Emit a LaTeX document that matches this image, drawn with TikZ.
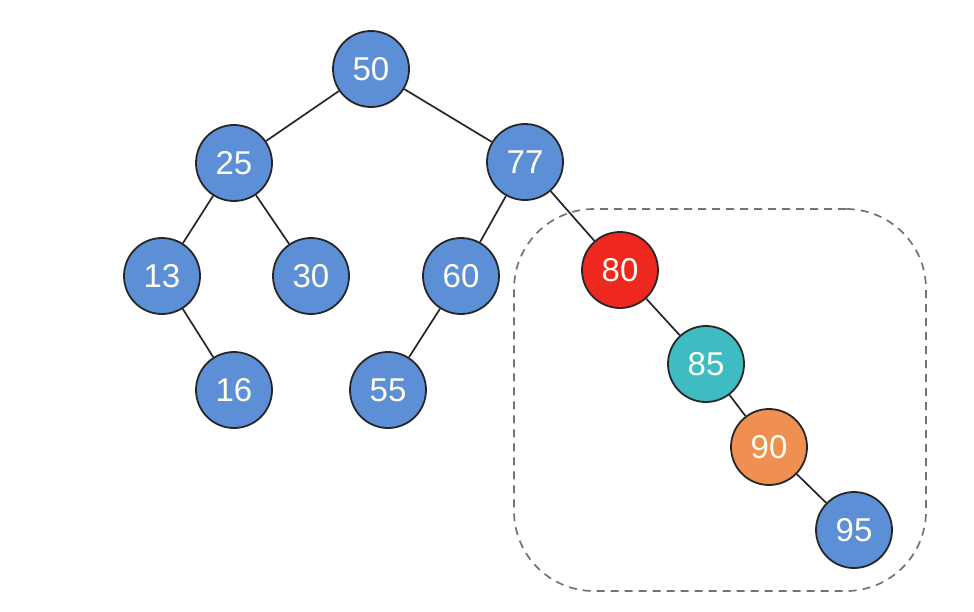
\documentclass[tikz,border=0pt]{standalone}
\usepackage{fontspec}
\setmainfont{Liberation Sans}
\usepackage{tikz}
\usetikzlibrary{arrows.meta}

\definecolor{nblue}{RGB}{92,143,214}
\definecolor{nred}{RGB}{238,40,30}
\definecolor{nteal}{RGB}{62,188,194}
\definecolor{norange}{RGB}{240,143,82}

\begin{document}
\begin{tikzpicture}[
  x=1pt, y=-1pt,
  node/.style={circle,draw=black!85,line width=1.8pt,minimum size=76pt,inner sep=0pt,
    text=white!95!yellow,font=\fontsize{33}{39}\selectfont},
  edge/.style={line width=1.7pt,draw=black!85},
  box/.style={dashed,dash pattern=on 8pt off 6pt,line width=1.7pt,draw=black!55,rounded corners=80pt}
]
\useasboundingbox (0,0) rectangle (974,611);

% dashed region round the right branch
\node[box,minimum width=412pt,minimum height=382pt,inner sep=0pt] (region) at (720,400) {};

% tree nodes: value/x/y/colour
\foreach \v/\x/\y/\c in {50/371/69/nblue, 25/234/163/nblue, 77/525/162/nblue,
    13/162/276/nblue, 30/311/276/nblue, 60/461/276/nblue, 80/620/270/nred,
    16/234/390/nblue, 55/388/390/nblue, 85/706/364/nteal, 90/769/447/norange,
    95/854/530/nblue} {
  \node[node,fill=\c] (n\v) at (\x,\y) {\v};
}

% edges parent -- child
\foreach \a/\b in {50/25,50/77,25/13,25/30,13/16,77/60,77/80,60/55,80/85,85/90,90/95} {
  \draw[edge] (n\a) -- (n\b);
}

\end{tikzpicture}
\end{document}
